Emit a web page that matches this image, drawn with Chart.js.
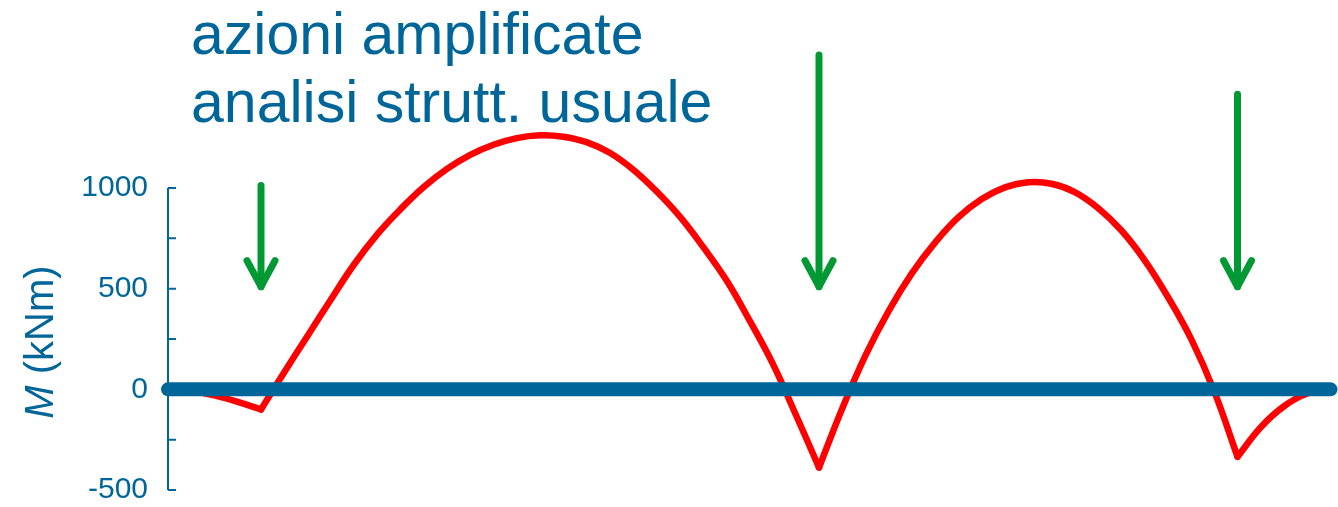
<!DOCTYPE html>
<html>
<head>
<meta charset="utf-8">
<script src="https://cdn.jsdelivr.net/npm/chart.js@4"></script>
<style>
  body { margin: 0; background: #ffffff; }
  #wrap { width: 1338px; height: 507px; position: relative; }
</style>
</head>
<body>
<div id="wrap"><canvas id="momentChart"></canvas></div>
<script>
// beam positions (m) and bending moment (kNm)
const xLeft = [0, 0.25, 0.5, 0.75, 1];
const mLeft = [0, -8, -30, -62, -100];
const xSpan1 = [1, 1.25, 1.5, 1.75, 2, 2.25, 2.5, 2.75, 3, 3.25, 3.5, 3.75, 4,
  4.25, 4.5, 4.75, 5, 5.25, 5.5, 5.75, 6, 6.25, 6.5, 6.75, 7];
const mSpan1 = [-100, 85, 265, 445, 620, 770, 895, 1005, 1095, 1165, 1215, 1248, 1262,
  1255, 1228, 1175, 1092, 985, 860, 710, 545, 345, 130, -125, -388];
const xSpan2 = [7, 7.25, 7.5, 7.75, 8, 8.25, 8.5, 8.75, 9, 9.25, 9.5, 9.75, 10,
  10.25, 10.5, 10.75, 11, 11.25, 11.5];
const mSpan2 = [-388, -95, 169, 390, 577, 730, 855, 945, 1003, 1028, 1021, 980, 901,
  790, 642, 460, 252, -10, -335];
const xRight = [11.5, 11.75, 12, 12.25, 12.5];
const mRight = [-335, -188, -84, -21, 0];

// beam axis
const beamX = [0, 12.5];

// load arrows (at the supports)
const arrowX = [1, 7, 11.5];
const arrowTop = [1012, 1660, 1466];
const arrowTip = [510, 510, 510];

// y axis
const yMin = -500;
const yMax = 1750;
const yAxisTop = 1000;
const yStep = 250;
const yLabelStep = 500;

const titleLines = ["azioni amplificate", "analisi strutt. usuale"];

const BLUE = "#006699";
const RED = "#ff0000";
const GREEN = "#009933";
const FONT = "'Liberation Sans', Arial, sans-serif";

function toPoints(xs, ys) {
  return xs.map((x, i) => ({ x: x, y: ys[i] }));
}

function curve(xs, ys) {
  return {
    data: toPoints(xs, ys),
    borderColor: RED,
    borderWidth: 6.5,
    borderJoinStyle: "round",
    borderCapStyle: "round",
    tension: 0.4,
    pointRadius: 0,
    clip: false,
    order: 3,
  };
}

const datasets = [
  curve(xLeft, mLeft),
  curve(xSpan1, mSpan1),
  curve(xSpan2, mSpan2),
  curve(xRight, mRight),
  {
    data: toPoints(beamX, beamX.map(() => 0)),
    borderColor: BLUE,
    borderWidth: 14,
    borderCapStyle: "round",
    pointRadius: 0,
    clip: false,
    order: 2,
  },
];

arrowX.forEach((x, i) => {
  datasets.push({
    isArrow: true,
    data: [{ x: x, y: arrowTop[i] }, { x: x, y: arrowTip[i] }],
    borderColor: GREEN,
    borderWidth: 7,
    borderCapStyle: "round",
    pointRadius: 0,
    clip: false,
    order: 1,
  });
});

// axis line with inward ticks, only up to 1000
const axisPlugin = {
  id: "axisPlugin",
  beforeDatasetsDraw(chart) {
    const ctx = chart.ctx;
    const y = chart.scales.y;
    const x0 = chart.chartArea.left;
    ctx.save();
    ctx.strokeStyle = BLUE;
    ctx.lineWidth = 2;
    ctx.beginPath();
    ctx.moveTo(x0, y.getPixelForValue(yAxisTop));
    ctx.lineTo(x0, y.getPixelForValue(yMin));
    y.ticks.forEach((t) => {
      const py = y.getPixelForValue(t.value);
      ctx.moveTo(x0, py);
      ctx.lineTo(x0 + 8, py);
    });
    ctx.stroke();
    ctx.restore();
  },
  afterDatasetsDraw(chart) {
    const ctx = chart.ctx;
    ctx.save();
    ctx.strokeStyle = GREEN;
    ctx.lineWidth = 7;
    ctx.lineCap = "round";
    ctx.lineJoin = "round";
    chart.data.datasets.forEach((ds, i) => {
      if (!ds.isArrow) return;
      const pts = chart.getDatasetMeta(i).data;
      const tip = pts[pts.length - 1];
      ctx.beginPath();
      ctx.moveTo(tip.x - 14, tip.y - 26);
      ctx.lineTo(tip.x, tip.y);
      ctx.lineTo(tip.x + 14, tip.y - 26);
      ctx.stroke();
    });
    ctx.restore();
  },
  afterDraw(chart) {
    const ctx = chart.ctx;
    ctx.save();
    ctx.fillStyle = BLUE;
    // title text
    ctx.font = "59px " + FONT;
    ctx.textAlign = "left";
    ctx.textBaseline = "alphabetic";
    ctx.fillText(titleLines[0], 191, 54);
    ctx.fillText(titleLines[1], 191, 122);
    // y axis title: italic M + (kNm)
    ctx.translate(42, 342);
    ctx.rotate(-Math.PI / 2);
    ctx.textBaseline = "middle";
    const italic = "italic 40px " + FONT;
    const normal = "40px " + FONT;
    ctx.font = italic;
    const wM = ctx.measureText("M").width;
    ctx.font = normal;
    const wRest = ctx.measureText(" (kNm)").width;
    const start = -(wM + wRest) / 2;
    ctx.font = italic;
    ctx.fillText("M", start, 0);
    ctx.font = normal;
    ctx.fillText(" (kNm)", start + wM, 0);
    ctx.restore();
  },
};

new Chart(document.getElementById("momentChart"), {
  type: "line",
  data: { datasets: datasets },
  options: {
    responsive: true,
    maintainAspectRatio: false,
    animation: false,
    events: [],
    layout: { padding: { top: 37, bottom: 17, left: 0, right: 7.5 } },
    plugins: {
      legend: { display: false },
      title: { display: false },
      tooltip: { enabled: false },
    },
    scales: {
      x: {
        type: "linear",
        min: beamX[0],
        max: beamX[beamX.length - 1],
        display: false,
      },
      y: {
        type: "linear",
        min: yMin,
        max: yMax,
        grid: { display: false, drawTicks: false, tickLength: 0 },
        border: { display: false },
        ticks: {
          stepSize: yStep,
          padding: 20,
          color: BLUE,
          font: { family: FONT, size: 30 },
          callback: (v) => (v % yLabelStep === 0 ? String(v) : ""),
        },
        afterBuildTicks: (scale) => {
          scale.ticks = scale.ticks.filter((t) => t.value <= yAxisTop);
        },
        afterFit: (scale) => {
          scale.width = 168;
          scale.paddingTop = 0;
          scale.paddingBottom = 0;
        },
      },
    },
  },
  plugins: [axisPlugin],
});
</script>
</body>
</html>
